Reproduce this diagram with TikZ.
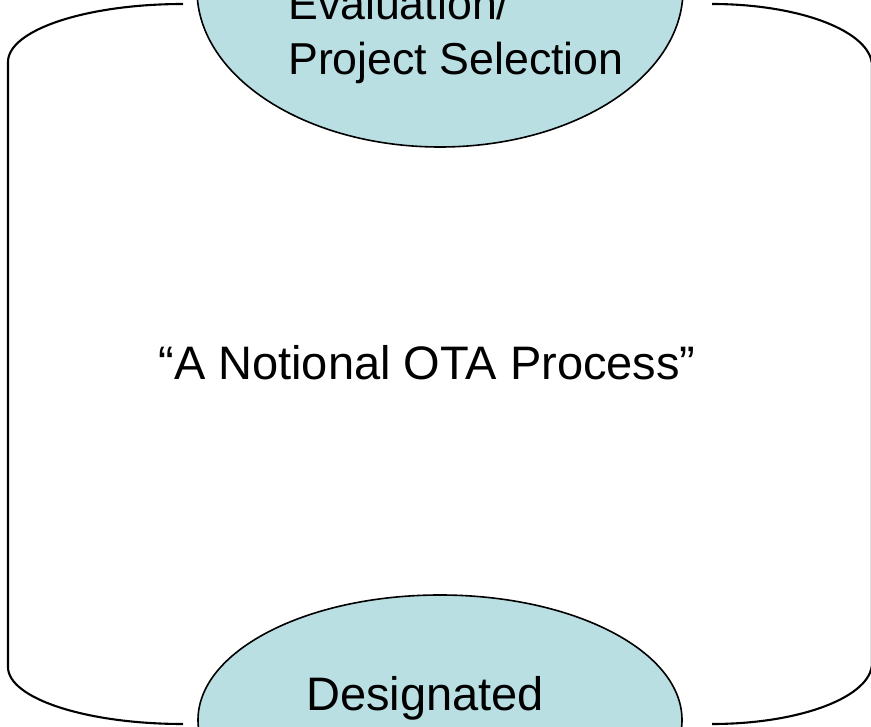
\documentclass[tikz,border=0pt]{standalone}
\usepackage{fontspec}
\setmainfont{Liberation Sans}
\usetikzlibrary{shapes.geometric}
\definecolor{ovalfill}{RGB}{185,223,227}
\tikzset{
  oval/.style={ellipse, draw=black, line width=1.6pt, fill=ovalfill, inner sep=0pt},
  frameline/.style={draw=black, line width=2.1pt},
  bigtext/.style={inner sep=0pt, font=\fontsize{44.7}{53}\selectfont},
  midtext/.style={inner sep=0pt, font=\fontsize{47}{56}\selectfont}
}
\begin{document}
\begin{tikzpicture}[x=1pt,y=-1pt]
\useasboundingbox (0,0) rectangle (871,727);
\clip (0,0) rectangle (871,727);
\fill[white] (0,0) rectangle (871,727);
% frame brackets
\coordinate (lt) at (183,4);
\coordinate (lb) at (183,724);
\coordinate (rt) at (712,4);
\coordinate (rb) at (712,724);
\draw[frameline] (lt) arc[start angle=90, end angle=180, x radius=175, y radius=-58]
  -- (8,667) arc[start angle=180, end angle=270, x radius=175, y radius=-57] -- (lb);
\draw[frameline] (rt) arc[start angle=90, end angle=0, x radius=160, y radius=-62]
  -- (872,663) arc[start angle=0, end angle=-90, x radius=160, y radius=-61] -- (rb);
% ovals
\node[oval, minimum width=486pt, minimum height=314pt] (top) at (440,-10) {};
\node[oval, minimum width=484pt, minimum height=250pt] (bot) at (440,720) {};
% texts
\node[bigtext, anchor=base west] (eval) at (288,20) {Evaluation/};
\node[bigtext, anchor=base west] (sel) at (288,75) {Project Selection};
\node[midtext, anchor=base] (title) at (427,380) {“A Notional OTA Process”};
\node[midtext, anchor=base] (desig) at (425,710) {Designated};
\end{tikzpicture}
\end{document}
